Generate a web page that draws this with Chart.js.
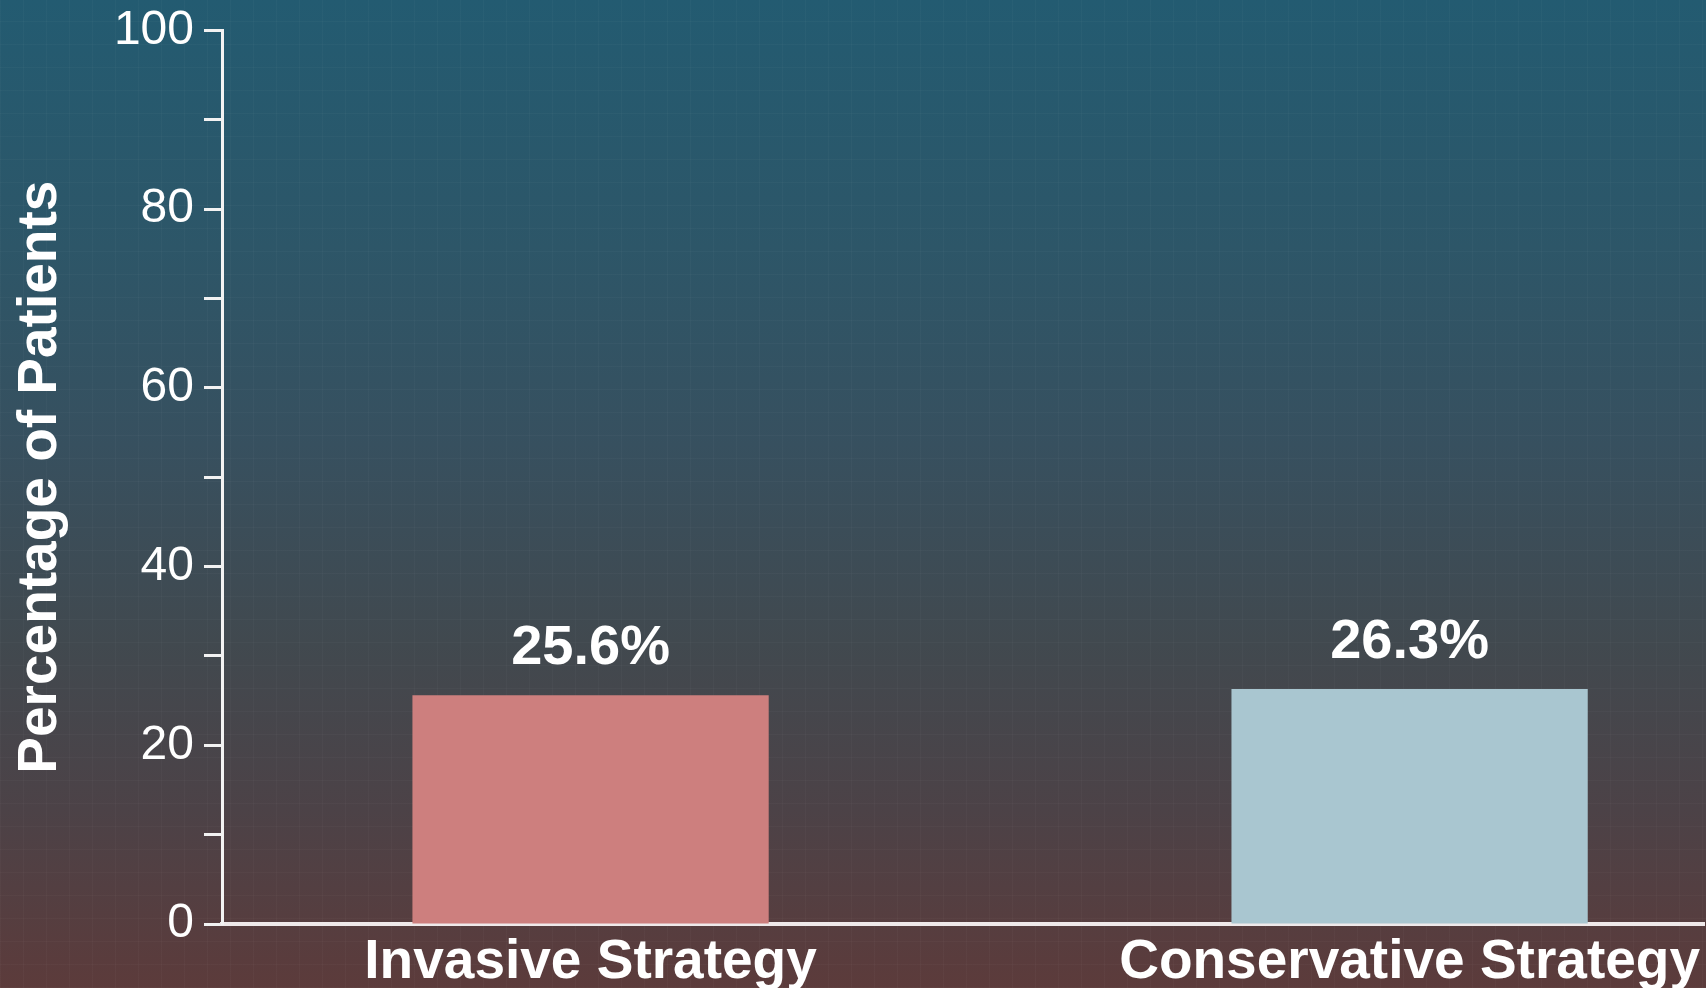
<!DOCTYPE html>
<html>
<head>
<meta charset="utf-8">
<script src="https://cdn.jsdelivr.net/npm/chart.js@4"></script>
<style>
  html, body { margin: 0; padding: 0; width: 1706px; height: 988px; overflow: hidden; }
  body {
    background-image:
      repeating-linear-gradient(90deg, rgba(255,255,255,0.025) 0 1px, transparent 1px 23px),
      repeating-linear-gradient(0deg, rgba(255,255,255,0.025) 0 1px, transparent 1px 23px),
      linear-gradient(180deg, #235b71 0%, #2d5668 25%, #37505f 45%, #41494f 65%, #4c4247 82%, #5c3b3b 100%);
  }
  #wrap { position: absolute; left: 0; top: 0; width: 1706px; height: 988px; }
</style>
</head>
<body>
<div id="wrap"><canvas id="chart"></canvas></div>
<script>
// Outcome share by treatment strategy
const categories = ['Invasive Strategy', 'Conservative Strategy'];
const percentValues = [25.6, 26.3];
const barColors = ['#cd7f7e', '#a9c6d0'];
const yTickStep = 10;
const yLabelStep = 20;
const yAxisTitle = 'Percentage of Patients';

const FONT = '"Liberation Sans", Arial, Helvetica, sans-serif';

// value labels above each bar
const valueLabels = {
  id: 'valueLabels',
  afterDatasetsDraw(chart) {
    const ctx = chart.ctx;
    const meta = chart.getDatasetMeta(0);
    ctx.save();
    ctx.fillStyle = '#ffffff';
    ctx.font = 'bold 56px ' + FONT;
    ctx.textAlign = 'center';
    ctx.textBaseline = 'alphabetic';
    meta.data.forEach((bar, i) => {
      ctx.fillText(percentValues[i].toFixed(1) + '%', bar.x, bar.y - 31);
    });
    ctx.restore();
  }
};

new Chart(document.getElementById('chart'), {
  type: 'bar',
  data: {
    datasets: [{
      data: categories.map((c, i) => ({ x: i + 1, y: percentValues[i] })),
      backgroundColor: barColors,
      borderWidth: 0,
      categoryPercentage: 1,
      barPercentage: 0.435
    }]
  },
  options: {
    responsive: true,
    maintainAspectRatio: false,
    animation: false,
    layout: { padding: { top: 0, right: 0, bottom: 0, left: 0 } },
    plugins: { legend: { display: false }, tooltip: { enabled: false } },
    scales: {
      x: {
        type: 'linear',
        offset: false,
        min: 0.55,
        max: 2.36,
        afterBuildTicks(scale) {
          scale.ticks = categories.map((c, i) => ({ value: i + 1 }));
        },
        afterFit(scale) { scale.height = 64; },
        grid: { display: true, offset: false, drawOnChartArea: false, drawTicks: false },
        border: { display: true, color: '#efe9ea', width: 4 },
        ticks: {
          color: '#ffffff',
          padding: 6,
          maxRotation: 0,
          autoSkip: false,
          font: { family: FONT, size: 55, weight: 'bold' },
          callback: (v) => categories[Math.round(v) - 1] || ''
        }
      },
      y: {
        min: 0,
        max: 100,
        afterFit(scale) { scale.width = 222; },
        grid: {
          display: true,
          drawOnChartArea: false,
          drawTicks: true,
          tickLength: 18,
          tickWidth: 3,
          tickColor: '#f2f2f2'
        },
        border: { display: true, color: '#f2f2f2', width: 3 },
        ticks: {
          stepSize: yTickStep,
          color: '#ffffff',
          padding: 10,
          font: { family: FONT, size: 48, lineHeight: 0.85 },
          callback: (v) => (v % yLabelStep === 0 ? String(v) : '')
        },
        title: {
          display: true,
          text: yAxisTitle,
          color: '#ffffff',
          padding: { top: 8, bottom: 0 },
          font: { family: FONT, size: 55, weight: 'bold' }
        }
      }
    }
  },
  plugins: [valueLabels]
});
</script>
</body>
</html>
